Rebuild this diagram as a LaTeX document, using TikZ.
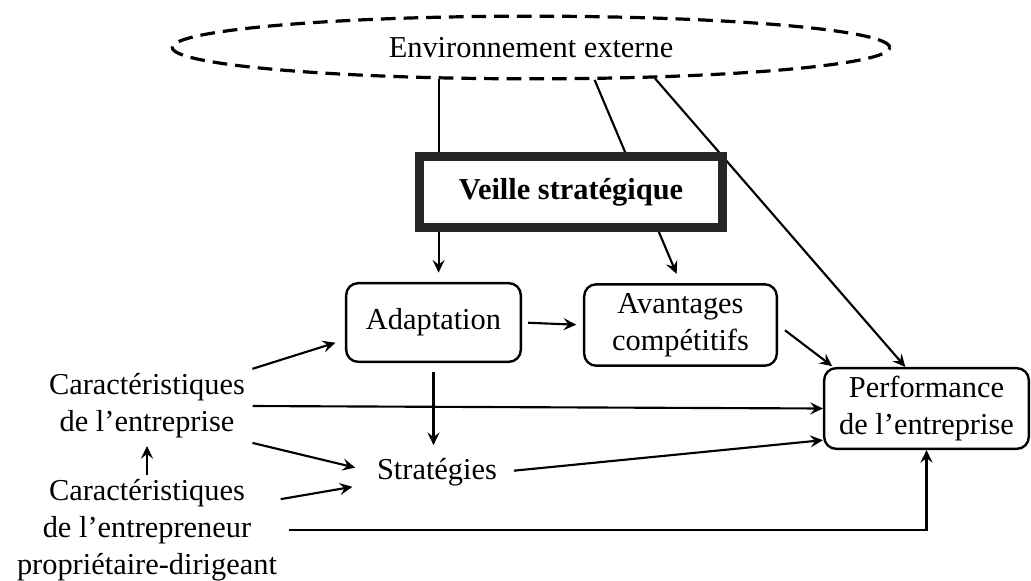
\documentclass[tikz,border=0pt]{standalone}
\usepackage{fontspec}
\setmainfont{Liberation Serif}
\usetikzlibrary{shapes.geometric,arrows.meta}

\tikzset{every picture/.style={line width=1.5pt}}
\tikzset{
  txt/.style={font=\fontsize{22.8}{27.75}\selectfont, align=center, inner sep=2pt},
  rbox/.style={txt, draw, line width=1.8pt, rounded corners=9pt, inner sep=0pt},
  arr/.style={-{Stealth[length=9.5pt,width=9pt,inset=3.5pt]}, line width=1.6pt},
}

\begin{document}
\begin{tikzpicture}[x=0.75pt,y=0.75pt,yscale=-1,xscale=1]
		\useasboundingbox (0,0) rectangle (1031,581);
		%Shape: Ellipse [id:env]
		\node (env) at (531,47.5) [txt, draw, ellipse, dash pattern=on 11pt off 6pt, line width=2.4pt, minimum width=538pt, minimum height=47pt, inner sep=0pt] {Environnement externe};
		%Shape: Rounded Rect [id:adapt]
		\node (adapt) at (433.5,322.5) [rbox, minimum width=131pt, minimum height=59pt] {Adaptation};
		%Shape: Rounded Rect [id:avant]
		\node (avant) at (680.5,325) [rbox, minimum width=144.5pt, minimum height=61pt] {Avantages\\compétitifs};
		%Shape: Rounded Rect [id:perf]
		\node (perf) at (926.5,408.5) [rbox, minimum width=153.5pt, minimum height=60.5pt] {Performance\\de l’entreprise};
		% Text Node
		\node (carent) at (147,406) [txt] {Caractéristiques\\de l’entreprise};
		% Text Node
		\node (carpro) at (147,530) [txt] {Caractéristiques\\de l’entrepreneur\\propriétaire-dirigeant};
		% Text Node
		\node (strat) at (437,472) [txt] {Stratégies};
		%Straight Lines behind the box
		\draw [arr, shorten >=7pt] (env.-161) -- (env.-161 |- adapt.north);
		\draw [arr, shorten >=7.5pt] (env.-27.6) -- (avant.north);
		\draw [arr] (env.-14) -- (perf.117);
		%Shape: Rectangle [id:veille]
		\node (veille) at (571,192) [txt, font=\fontsize{22.8}{27.75}\selectfont\bfseries, draw=black!85, line width=6.75pt, fill=white, minimum width=227.25pt, minimum height=53.25pt] {Veille stratégique};
		%Straight Lines
		\draw [arr, shorten <=4.5pt, shorten >=5pt] (adapt.east) -- (avant.west);
		\draw [arr, shorten <=6.5pt, shorten >=1pt] (avant.east) -- (perf.156);
		\draw [arr, shorten <=3pt, shorten >=7.5pt] (carent.north east) -- (adapt.191);
		\draw [arr, shorten <=3pt] (carent.east) -- (perf.west);
		\draw [arr, shorten <=3pt, shorten >=14pt] (carent.south east) -- (strat.west);
		\draw [arr, shorten >=3pt] (carpro.north) -- (carent.south);
		\draw [arr, shorten >=16pt] (carpro.13) -- (strat.190);
		\draw [arr, shorten <=6pt] (carpro.east) -| (perf.south);
		\draw [arr, shorten <=10pt] (strat.east) -- (perf.197);
		\draw [arr, shorten <=7pt, shorten >=7pt] (adapt.south) -- (adapt.south |- strat.north);

	\end{tikzpicture}
\end{document}
